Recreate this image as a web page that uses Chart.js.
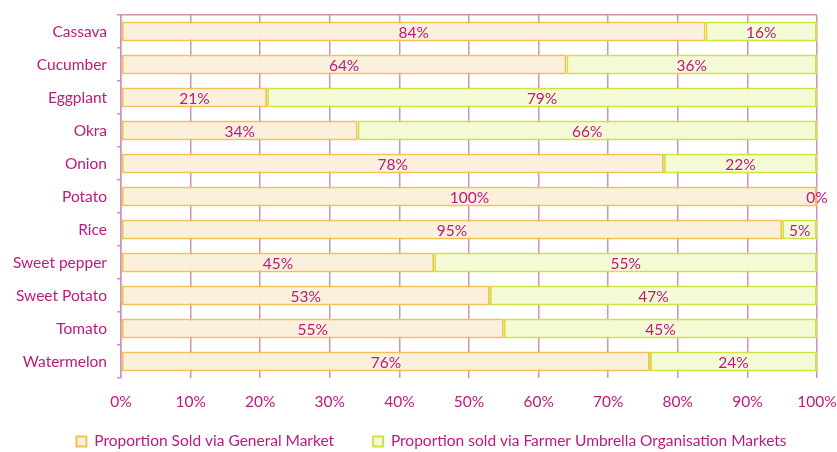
<!DOCTYPE html>
<html>
<head>
<meta charset="utf-8">
<script src="https://cdn.jsdelivr.net/npm/chart.js@4"></script>
<style>
  html, body { margin: 0; padding: 0; background: #fff; }
  #wrap { width: 837px; height: 452px; }
</style>
</head>
<body>
<div id="wrap"><canvas id="marketChart"></canvas></div>
<script>
// Tanaman
const crops = [
  "Cassava", "Cucumber", "Eggplant", "Okra", "Onion", "Potato",
  "Rice", "Sweet pepper", "Sweet Potato", "Tomato", "Watermelon",
];

// Persen dijual lewat pasar umum
const generalMarket = [84, 64, 21, 34, 78, 100, 95, 45, 53, 55, 76];

// Persen dijual lewat pasar organisasi petani
const farmerMarket = [16, 36, 79, 66, 22, 0, 5, 55, 47, 45, 24];

const seriesNames = [
  "Proportion Sold via General Market",
  "Proportion sold via Farmer Umbrella Organisation Markets",
];

const xTicks = [0, 10, 20, 30, 40, 50, 60, 70, 80, 90, 100];

const textColor = "#bd1a7e";
const gridColor = "#cc94b6";
const fontFamily = "Lato, 'Open Sans', sans-serif";
const fontSize = 15.5;

// jarak antar item legend, dan posisi legend
const legendGap = 39;
const legendShiftX = 13;
const legendTextY = 443;

// Label persen di tengah tiap segmen
const segmentLabels = {
  id: "segmentLabels",
  afterDatasetsDraw(chart) {
    const ctx = chart.ctx;
    ctx.save();
    ctx.fillStyle = textColor;
    ctx.font = fontSize + "px " + fontFamily;
    ctx.textAlign = "center";
    ctx.textBaseline = "middle";
    chart.data.datasets.forEach((ds, i) => {
      chart.getDatasetMeta(i).data.forEach((bar, j) => {
        const x = (bar.x + bar.base) / 2;
        ctx.fillText(ds.data[j] + "%", x, bar.y + 1);
      });
    });
    ctx.restore();
  },
};

// geser legend sedikit ke kanan dan atur tinggi barisnya
const legendPlace = {
  id: "legendPlace",
  afterLayout(chart) {
    const lg = chart.legend;
    lg.left += legendShiftX;
    lg.right += legendShiftX;
    lg.top = legendTextY - fontSize * 0.6 - legendGap;
  },
};

new Chart(document.getElementById("marketChart"), {
  type: "bar",
  data: {
    labels: crops,
    datasets: [
      {
        label: seriesNames[0],
        data: generalMarket,
        backgroundColor: "#fbf0db",
        borderColor: "#f4c157",
        borderWidth: 2,
        borderSkipped: false,
      },
      {
        label: seriesNames[1],
        data: farmerMarket,
        backgroundColor: "#f4f9d6",
        borderColor: "#d3e23c",
        borderWidth: 2,
        borderSkipped: false,
      },
    ],
  },
  options: {
    indexAxis: "y",
    responsive: true,
    maintainAspectRatio: false,
    animation: false,
    categoryPercentage: 1,
    barPercentage: 0.6,
    layout: { padding: { top: 15, right: 0, left: 0, bottom: 0 } },
    scales: {
      x: {
        stacked: true,
        min: 0,
        max: 100,
        afterBuildTicks(scale) {
          scale.ticks = xTicks.map((v) => ({ value: v }));
        },
        afterFit(scale) {
          scale.height = 36.7;
          scale.paddingLeft = 0;
          scale.paddingRight = 20;
        },
        border: { display: false },
        grid: { color: gridColor, lineWidth: 1.5, drawTicks: false },
        ticks: {
          color: textColor,
          font: { family: fontFamily, size: fontSize },
          padding: 15,
          callback: (v) => v + "%",
        },
      },
      y: {
        stacked: true,
        afterFit(scale) {
          scale.width = 121;
          scale.paddingTop = 0;
          scale.paddingBottom = 0;
        },
        border: { display: true, color: gridColor, width: 1.5 },
        grid: {
          offset: true,
          // cuma garis paling atas yang ditarik penuh
          color: (c) => (c.index === 0 ? gridColor : "rgba(0,0,0,0)"),
          tickColor: gridColor,
          tickLength: 4,
          lineWidth: 1.5,
        },
        ticks: {
          color: textColor,
          font: { family: fontFamily, size: fontSize },
          padding: 10,
        },
      },
    },
    plugins: {
      legend: {
        position: "bottom",
        maxHeight: 37.3,
        labels: {
          color: textColor,
          font: { family: fontFamily, size: fontSize },
          boxWidth: 10,
          boxHeight: 10,
          padding: legendGap,
        },
      },
      tooltip: { enabled: false },
    },
  },
  plugins: [segmentLabels, legendPlace],
});
</script>
</body>
</html>
